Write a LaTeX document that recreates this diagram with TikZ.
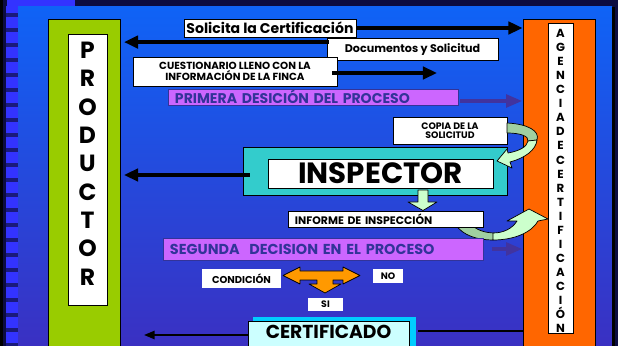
\documentclass[tikz,border=0pt]{standalone}
\usepackage{fontspec}
\setmainfont{Poppins}
\usetikzlibrary{arrows.meta,calc,positioning}

\newcommand{\pxl}{0.03cm}
\definecolor{navy}{HTML}{0C0C40}
\definecolor{panelTop}{HTML}{0F63F6}
\definecolor{panelBot}{HTML}{3A30C2}
\definecolor{stripe}{HTML}{3333FF}
\definecolor{stripeDark}{HTML}{1A1A7A}
\definecolor{prodGreen}{HTML}{99CC00}
\definecolor{agOrange}{HTML}{FF6600}
\definecolor{inspTeal}{HTML}{33CCCC}
\definecolor{decPurple}{HTML}{CC66FF}
\definecolor{decText}{HTML}{333399}
\definecolor{decArrow}{HTML}{41339F}
\definecolor{mint}{HTML}{CCFFCC}
\definecolor{mintDark}{HTML}{A0D0A0}
\definecolor{tOrange}{HTML}{FF9900}
\definecolor{certCyan}{HTML}{00CCFF}
\definecolor{certLight}{HTML}{CCFFFF}

\tikzset{
  whitebox/.style={draw=black, fill=white, line width=0.7pt, inner sep=0pt},
  plainbox/.style={fill=white, inner sep=0pt},
  colbox/.style={draw=black, line width=0.8pt, inner sep=0pt},
  purplebox/.style={draw=decText, fill=decPurple, line width=0.7pt, inner ysep=0pt,
    inner xsep=0.21cm, text=decText, align=left},
  blackarrow/.style={line width=3pt, -{Triangle[length=12pt,width=10.5pt]}},
  thinarrow/.style={line width=1.6pt, -{Triangle[length=9pt,width=7pt]}},
  decarrow/.style={draw=decArrow, line width=4pt, -{Triangle[length=14pt,width=10.5pt]}},
  blockarrow/.style={draw=black, line width=0.6pt, line join=round},
}

\begin{document}
\begin{tikzpicture}[x=\pxl, y=-\pxl]
  \useasboundingbox (0,0) rectangle (618,346);
  \clip (0,0) rectangle (618,346);
  % Frame and panel
  \fill[navy] (0,0) rectangle (618,346);
  \fill[black] (0,0) rectangle (3,346);
  \fill[stripe] (7,0) rectangle (75,6);
  \fill[stripe] (6,6) rectangle (18,346);
  \foreach \y in {13,28,...,343}
    \fill[stripeDark] (6,\y) rectangle (18,\y+4);
  \shade[top color=panelTop, bottom color=panelBot] (18,7) rectangle (612,346);
  \fill[black] (612,7) rectangle (615,346);

  % Productor
  \node[colbox, fill=prodGreen, minimum width=72*\pxl, minimum height=340*\pxl] (prodcol) at (84,189) {};
  \node[whitebox, minimum width=39*\pxl, minimum height=271*\pxl] (prod) at (87.5,169.5) {};
  \node[align=center, font=\bfseries\fontsize{20}{24.2}\selectfont] (prodtxt) at ($(prod)+(0,-6)$)
    {P\\R\\O\\D\\U\\C\\T\\O\\R};

  % Agencia de certificacion
  \node[colbox, fill=agOrange, minimum width=72*\pxl, minimum height=340*\pxl] (agencol) at (559,189) {};
  \node[whitebox, minimum width=25*\pxl, minimum height=310*\pxl] (agencia) at (560.5,178) {};
  \node[align=center, font=\bfseries\fontsize{10}{12}\selectfont] (agentxt) at ($(agencia)+(0,3)$)
    {A\\G\\E\\N\\C\\I\\A\\D\\E\\C\\E\\R\\T\\I\\F\\I\\C\\A\\C\\I\\Ó\\N};

  % First exchange
  \node[whitebox, minimum width=172*\pxl, minimum height=18*\pxl,
    font=\bfseries\fontsize{12}{14}\selectfont] (solicita) at (270,28) {Solicita la Certificación};
  \draw[blackarrow] (solicita.east) -- (solicita.east -| agencol.west);
  \node[whitebox, minimum width=171*\pxl, minimum height=22*\pxl,
    font=\bfseries\fontsize{9.5}{11}\selectfont] (docs) at (412.5,49.5) {Documentos y Solicitud};
  \coordinate (docsA) at ($(docs.north west)+(2,4)$);
  \draw[blackarrow, shorten >=3pt] (docsA) -- (docsA -| prodcol.east);
  \node[whitebox, minimum width=204*\pxl, minimum height=29*\pxl, align=center,
    font=\bfseries\fontsize{8.8}{8.8}\selectfont] (cuest) at (235,71.5)
    {CUESTIONARIO LLENO CON LA\\INFORMACIÓN DE LA FINCA};
  \coordinate (cuestEnd) at (437,73);
  \draw[blackarrow] ($(cuest.east)+(-5,1.5)$) -- (cuestEnd);
  \node[purplebox, minimum height=16*\pxl, text width=8.28cm,
    font=\bfseries\fontsize{12}{12}\selectfont] (primera) at (313,97) {PRIMERA DESICIÓN DEL PROCESO};
  \coordinate (primeraA) at ($(primera.east)+(2,4)$);
  \draw[decarrow] (primeraA) -- (primeraA -| agencol.west);

  % Inspector
  \node[whitebox, minimum width=114*\pxl, minimum height=27*\pxl, align=center,
    font=\bfseries\fontsize{8}{7.5}\selectfont] (copia) at (450,130.5) {COPIA DE LA\\SOLICITUD};
  \node[colbox, fill=inspTeal, minimum width=264*\pxl, minimum height=48*\pxl] (inspcol) at (375,171) {};
  \node[whitebox, minimum width=225*\pxl, minimum height=29*\pxl,
    font=\bfseries\fontsize{25}{26}\selectfont] (insp) at (380.5,173.5) {INSPECTOR};
  \coordinate (inspA) at ($(inspcol.west)+(7,4)$);
  \draw[blackarrow, shorten >=3pt] (inspA) -- (inspA -| prodcol.east);
  \filldraw[blockarrow, fill=mintDark] (507,123) .. controls (528,124) and (540,131) .. (537,140)
    -- (528,141) .. controls (529,136) and (520,133) .. (507,133) -- cycle;
  \filldraw[blockarrow, fill=mint] (528,141) .. controls (527,147) and (519,151) .. (508,153)
    -- (507,149) -- (497,161) -- (512,168) -- (510,162)
    .. controls (525,158) and (536,150) .. (537,140) -- cycle;
  \filldraw[blockarrow, fill=mint] (418,190) -- (428,190) -- (428,202) -- (437,202)
    -- (423,210.5) -- (408,202) -- (418,202) -- cycle;

  % Second decision
  \filldraw[blockarrow, fill=mintDark] (455,224) .. controls (463,236) and (478,240) .. (493,240)
    -- (495,233) .. controls (485,233) and (476,230) .. (471,224) -- cycle;
  \node[whitebox, minimum height=16*\pxl, inner xsep=0.21cm, text width=5.43cm, align=left,
    font=\bfseries\fontsize{9.3}{10}\selectfont] (informe) at (385.5,219) {INFORME DE INSPECCIÓN};
  \node[purplebox, minimum height=22*\pxl, text width=9.18cm,
    font=\bfseries\fontsize{12.3}{13}\selectfont] (segunda) at (323,249) {SEGUNDA\ \ DECISION EN EL PROCESO};
  \filldraw[blockarrow, fill=mint] (493,240) .. controls (515,240) and (532,232) .. (538,221)
    -- (548,219) -- (529,209) -- (507,221) -- (517,221)
    .. controls (512,229) and (503,233) .. (493,233) -- cycle;
  \coordinate (segundaA) at ($(segunda.east)+(9,0)$);
  \draw[decarrow] (segundaA) -- (segundaA -| agencol.west);

  % Condition
  \node[plainbox, minimum width=79*\pxl, minimum height=19*\pxl,
    font=\bfseries\fontsize{8.5}{9}\selectfont] (cond) at (241.5,278.5) {CONDICIÓN};
  \filldraw[blockarrow, fill=tOrange] (283,275.5) -- (300,267) -- (300,271) -- (343,271)
    -- (343,267) -- (360,275.5) -- (343,284) -- (343,280) -- (333,280) -- (333,284)
    -- (341,284) -- (325,293) -- (309,284) -- (317,284) -- (317,280) -- (300,280)
    -- (300,284) -- cycle;
  \node[plainbox, minimum width=30*\pxl, minimum height=14*\pxl,
    font=\bfseries\fontsize{8}{9}\selectfont] (no) at (388,276) {NO};
  \node[plainbox, minimum width=35*\pxl, minimum height=13*\pxl,
    font=\bfseries\fontsize{8}{9}\selectfont] (si) at (325.5,304.5) {SI};

  % Certificado
  \node[fill=certCyan, minimum width=163*\pxl, minimum height=37*\pxl, inner sep=0pt] (certback) at (334.5,335.5) {};
  \node[colbox, fill=certLight, minimum width=161*\pxl, minimum height=32*\pxl,
    text height=0.36cm, text depth=0.27cm,
    font=\bfseries\fontsize{16}{17}\selectfont] (cert) at (328.5,337) {CERTIFICADO};
  \coordinate (certA) at ($(certback.east)+(2,-4.5)$);
  \draw[line width=1.5pt] (certA) -- (certA -| agencol.west);
  \coordinate (certEnd) at (144,335);
  \draw[thinarrow] (cert.west |- certEnd) -- (certEnd);
\end{tikzpicture}
\end{document}
